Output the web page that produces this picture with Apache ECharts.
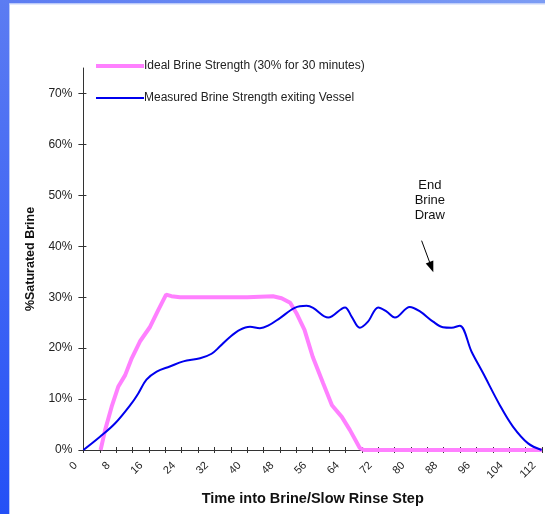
<!DOCTYPE html>
<html>
<head>
<meta charset="utf-8">
<script src="https://cdn.jsdelivr.net/npm/echarts@6/dist/echarts.min.js"></script>
<style>
html,body{margin:0;padding:0;background:#fff;}
#c{width:545px;height:514px;}
</style>
</head>
<body>
<div id="c"></div>
<script>
// ---- data ----
var idealX = [4.2, 5.3, 6.9, 8.5, 10.2, 11.8, 13.8, 16.3, 18.3, 20.2, 21.5, 23.6, 30, 40, 46.3, 48.4, 50.5, 52, 54, 56, 58.5, 60.7, 63.1, 65.1, 67.5, 68.5, 80, 96, 112];
var idealY = [0, 3.9, 8.5, 12.4, 14.7, 18, 21.3, 24.2, 27.5, 30.5, 30.2, 30, 30, 30, 30.2, 29.8, 28.9, 26.9, 23.6, 18.3, 13.2, 8.8, 6.5, 3.9, 0.4, 0, 0, 0, 0];
var measX = [0, 4.05, 7.7, 11.8, 13.4, 15.4, 17.9, 21.1, 24.4, 28.5, 31.3, 33.3, 35.8, 38.2, 40.7, 43.1, 45.1, 48, 51.6, 54.5, 56.1, 59.8, 63.9, 65.5, 67.5, 69.5, 72, 74, 76.1, 79.7, 82.2, 85.4, 87.8, 89.9, 91.9, 94.8, 97.6, 101.7, 104.9, 108.6, 111.9];
var measY = [0, 2.6, 5.2, 9.2, 11.1, 13.8, 15.4, 16.4, 17.4, 18.0, 18.9, 20.3, 22.2, 23.6, 24.2, 23.9, 24.4, 25.9, 27.9, 28.3, 27.9, 26.0, 28.0, 26.2, 24.0, 25.2, 28.0, 27.2, 26.0, 28.1, 27.2, 25.2, 24.1, 24.0, 24.4, 19.3, 15.1, 8.8, 4.6, 1.3, 0];
var yTicks = [0, 10, 20, 30, 40, 50, 60, 70];
var seriesNames = ['Ideal Brine Strength (30% for 30 minutes)', 'Measured Brine Strength exiting Vessel'];
var xTitle = 'Time into Brine/Slow Rinse Step';
var yTitle = '%Saturated Brine';
var noteText = 'End\nBrine\nDraw';
var arrowFrom = [82.6, 41.1];
var arrowTo = [85.0, 35.9];
var notePos = [84.6, 49];

function zip(a, b) { return a.map(function (v, i) { return [v, b[i]]; }); }

var FONT = 'Arial, "Liberation Sans", sans-serif';
var AX = '#333';
var PINK = '#ff80ff';
var BLUE = '#0000ee';

var chart = echarts.init(document.getElementById('c'));
var baseX = { type: 'value', min: 0, max: 112, interval: 4, gridIndex: 0 };
var baseY = { type: 'value', min: 0, max: 75, interval: 10, gridIndex: 0 };

chart.setOption({
  backgroundColor: '#fff',
  animation: false,
  textStyle: { fontFamily: FONT },
  grid: { left: 83.4, right: 3, top: 68, bottom: 64, containLabel: false },
  legend: {
    orient: 'vertical', left: 94, top: 60, padding: 0,
    itemWidth: 48, itemHeight: 14, itemGap: 20,
    itemStyle: { color: 'rgba(0,0,0,0)', borderWidth: 0, opacity: 0 },
    textStyle: { fontSize: 12, color: '#222', fontFamily: FONT, padding: [0, 0, 0, -5] },
    data: [
      { name: seriesNames[0], lineStyle: { color: PINK, width: 4 } },
      { name: seriesNames[1], lineStyle: { color: BLUE, width: 2 } }
    ]
  },
  xAxis: [
    Object.assign({}, baseX, {
      name: xTitle, nameLocation: 'middle', nameGap: 41,
      nameTextStyle: { fontSize: 14.5, fontWeight: 'bold', color: '#111', fontFamily: FONT },
      axisLine: { show: true, lineStyle: { color: AX, width: 1 } },
      axisTick: { show: true, inside: false, length: 3, lineStyle: { color: AX } },
      axisLabel: {
        rotate: 45, fontSize: 11, color: '#222', margin: 6, fontFamily: FONT,
        padding: [0, 11, 0, 0],
        formatter: function (v) { return v % 8 === 0 ? String(v) : ''; }
      },
      splitLine: { show: false }
    }),
    Object.assign({}, baseX, {
      position: 'bottom',
      axisLine: { show: false },
      axisTick: { show: true, inside: true, length: 3, lineStyle: { color: AX } },
      axisLabel: { show: false },
      splitLine: { show: false }
    })
  ],
  yAxis: [
    Object.assign({}, baseY, {
      name: yTitle, nameLocation: 'middle', nameGap: 45, nameRotate: 90,
      nameTextStyle: { fontSize: 12.5, fontWeight: 'bold', color: '#111', fontFamily: FONT },
      axisLine: { show: true, lineStyle: { color: AX, width: 1 } },
      axisTick: { show: true, inside: false, length: 5, customValues: yTicks, lineStyle: { color: AX } },
      axisLabel: {
        fontSize: 12, color: '#222', margin: 11, fontFamily: FONT, customValues: yTicks,
        formatter: function (v) { return v % 10 === 0 ? v + '%' : ''; }
      },
      splitLine: { show: false }
    }),
    Object.assign({}, baseY, {
      position: 'left',
      axisLine: { show: false },
      axisTick: { show: true, inside: true, length: 3, customValues: yTicks, lineStyle: { color: AX } },
      axisLabel: { show: false },
      splitLine: { show: false }
    })
  ],
  series: [
    {
      name: seriesNames[0], type: 'line', xAxisIndex: 0, yAxisIndex: 0,
      data: zip(idealX, idealY), symbol: 'none', smooth: false, z: 3,
      lineStyle: { color: PINK, width: 4 }, itemStyle: { color: PINK }
    },
    {
      name: seriesNames[1], type: 'line', xAxisIndex: 0, yAxisIndex: 0,
      data: zip(measX, measY), symbol: 'none', smooth: 0.35, z: 4,
      lineStyle: { color: BLUE, width: 2 }, itemStyle: { color: BLUE },
      markLine: {
        silent: true, animation: false,
        symbol: ['none', 'triangle'], symbolSize: [8, 11],
        lineStyle: { color: '#000', width: 1, type: 'solid' },
        label: { show: false },
        data: [[{ coord: arrowFrom }, { coord: arrowTo }]]
      }
    }
  ]
});

var np = chart.convertToPixel({ gridIndex: 0 }, notePos);
chart.setOption({
  graphic: [
    { type: 'rect', left: 0, top: 0, shape: { width: 9, height: 514 }, z: 100,
      style: { fill: new echarts.graphic.LinearGradient(0, 0, 0, 1, [{ offset: 0, color: '#5c7cf2' }, { offset: 1, color: '#2450f6' }]) } },
    { type: 'rect', left: 9, top: 0, shape: { width: 1, height: 514 }, z: 100, style: { fill: '#b8c8fa' } },
    { type: 'rect', left: 0, top: 0, shape: { width: 545, height: 3.5 }, z: 100,
      style: { fill: new echarts.graphic.LinearGradient(0, 0, 1, 0, [{ offset: 0, color: '#5c7cf2' }, { offset: 1, color: '#7c9cf4' }]) } },
    { type: 'rect', left: 9, top: 3.5, shape: { width: 536, height: 1 }, z: 100, style: { fill: '#c8d4fa' } },
    { type: 'text', x: np[0], y: np[1], z: 100,
      style: { text: noteText, align: 'center', verticalAlign: 'middle', fontSize: 13, lineHeight: 15, fill: '#111', fontFamily: FONT } }
  ]
});
</script>
</body>
</html>
